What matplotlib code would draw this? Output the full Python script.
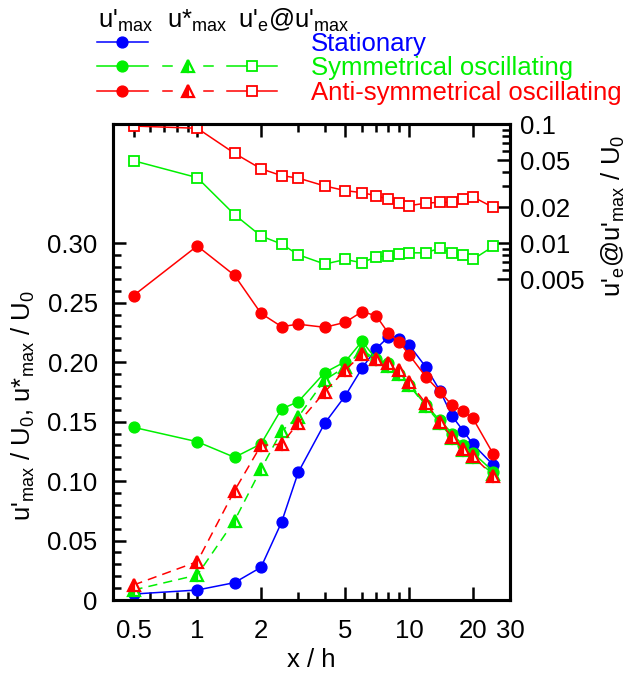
import matplotlib
matplotlib.use("Agg")
import matplotlib.pyplot as plt
import numpy as np
from matplotlib.ticker import FixedLocator, FixedFormatter, NullFormatter

plt.rcParams['font.family'] = ['Liberation Sans', 'DejaVu Sans']
plt.rcParams['font.size'] = 18.5
plt.rcParams['mathtext.default'] = 'regular'

# x / h stations
x_h = [0.5, 1, 1.5, 2, 2.5, 3, 4, 5, 6, 7, 8, 9, 10, 12, 14, 16, 18, 20, 25]

# u'max / U0
umax_stat = [0.005, 0.0084, 0.0146, 0.0275, 0.0653, 0.1074, 0.1486, 0.1717, 0.1948, 0.2114,
             0.2212, 0.2198, 0.2145, 0.196, 0.176, 0.1545, 0.1425, 0.1312, 0.1135]
umax_sym = [0.1452, 0.1331, 0.120, 0.1312, 0.1606, 0.1668, 0.1912, 0.2004, 0.2175, 0.2025,
            0.199, 0.190, 0.181, 0.164, 0.151, 0.140, 0.130, 0.124, 0.108]
umax_anti = [0.256, 0.2977, 0.273, 0.241, 0.2299, 0.2319, 0.2293, 0.2335, 0.2425, 0.239,
             0.2243, 0.2168, 0.2064, 0.1878, 0.1752, 0.1636, 0.1588, 0.153, 0.1228]

# u*max / U0
ustar_sym = [0.0084, 0.021, 0.0667, 0.110, 0.142, 0.154, 0.185, 0.196, 0.210, 0.2024,
             0.197, 0.190, 0.181, 0.163, 0.149, 0.136, 0.126, 0.120, 0.106]
ustar_anti = [0.0126, 0.0322, 0.092, 0.130, 0.131, 0.149, 0.175, 0.1934, 0.2065, 0.203,
              0.1996, 0.1934, 0.1836, 0.1654, 0.150, 0.1368, 0.1267, 0.1211, 0.1043]

# u'e @ u'max / U0 (right axis)
ue_sym = [0.0494, 0.0356, 0.0174, 0.0115, 0.00985, 0.0080, 0.00668, 0.0073, 0.00685, 0.0077,
          0.0078, 0.0081, 0.0083, 0.0083, 0.0091, 0.0082, 0.0079, 0.0073, 0.0094]
ue_anti = [0.0967, 0.0926, 0.057, 0.0423, 0.037, 0.0353, 0.0303, 0.0277, 0.0266, 0.0251,
           0.0234, 0.0218, 0.0207, 0.0217, 0.0221, 0.0221, 0.0234, 0.0246, 0.020]

BLUE = '#0000ff'
GREEN = '#00f000'
RED = '#ff0000'

x_ticks = [0.5, 1, 2, 5, 10, 20, 30]
x_minor = [0.6, 0.7, 0.8, 0.9, 3, 4, 6, 7, 8, 9]
y_ticks = [0, 0.05, 0.10, 0.15, 0.20, 0.25, 0.30]
y_labels = ['0', '0.05', '0.10', '0.15', '0.20', '0.25', '0.30']
r_ticks = [0.005, 0.01, 0.02, 0.05, 0.1]
r_labels = ['0.005', '0.01', '0.02', '0.05', '0.1']
r_minor = [0.006, 0.007, 0.008, 0.009, 0.03, 0.04, 0.06, 0.07, 0.08, 0.09]

fig = plt.figure(figsize=(6.33, 6.75), dpi=100)
ax = fig.add_axes([113/633, 75/675, 397/633, 475.7/675])

circ = dict(marker='o', ms=7.8, lw=1.1)
tri = dict(marker='^', ms=9, lw=1.1, ls=(0, (6, 4)), fillstyle='left',
           markerfacecoloralt='white', mew=1.6)

ax.plot(x_h, umax_stat, color=BLUE, **circ)
ax.plot(x_h, umax_sym, color=GREEN, **circ)
ax.plot(x_h, ustar_sym, color=GREEN, **tri)
ax.plot(x_h, umax_anti, color=RED, **circ)
ax.plot(x_h, ustar_anti, color=RED, **tri)

ax.set_xscale('log')
ax.set_xlim(0.4, 30)
ax.set_ylim(0, 0.4)
ax.xaxis.set_major_locator(FixedLocator(x_ticks))
ax.xaxis.set_major_formatter(FixedFormatter([str(t) for t in x_ticks]))
ax.xaxis.set_minor_locator(FixedLocator(x_minor))
ax.xaxis.set_minor_formatter(NullFormatter())
ax.yaxis.set_major_locator(FixedLocator(y_ticks))
ax.yaxis.set_major_formatter(FixedFormatter(y_labels))
ax.yaxis.set_minor_locator(FixedLocator(np.arange(0, 0.301, 0.01)))
ax.tick_params(which='both', direction='in', top=True, right=False, width=1.8)
ax.tick_params(which='major', length=9.5)
ax.tick_params(which='minor', length=5.5)
ax.tick_params(axis='x', which='major', pad=14)
ax.tick_params(axis='y', which='major', pad=11)
for s in ax.spines.values():
    s.set_linewidth(2.2)

ax.set_xlabel('x / h', labelpad=3)
fig.text(23/633, 1 - 406/675,
         "u'$_{max}$ / U$_{0}$, u*$_{max}$ / U$_{0}$",
         rotation=90, ha='center', va='center')

ax2 = ax.twinx()
sq = dict(marker='s', ms=7, lw=1.1, mfc='white', mew=1.3)
ax2.plot(x_h, ue_sym, color=GREEN, **sq)
ax2.plot(x_h, ue_anti, color=RED, **sq)
ax2.set_yscale('log')
ax2.set_ylim(1e-5, 0.1)
ax2.yaxis.set_major_locator(FixedLocator(r_ticks))
ax2.yaxis.set_major_formatter(FixedFormatter(r_labels))
ax2.yaxis.set_minor_locator(FixedLocator(r_minor))
ax2.yaxis.set_minor_formatter(NullFormatter())
ax2.tick_params(which='both', direction='in', width=1.8, pad=7)
ax2.tick_params(which='major', length=9.5)
ax2.tick_params(which='minor', length=5.5)
for s in ax2.spines.values():
    s.set_linewidth(2.2)
fig.text(613/633, 1 - 216/675,
         "u'$_{e}$@u'$_{max}$ / U$_{0}$",
         rotation=90, ha='center', va='center')

# hand-made legend in pixel space
lg = fig.add_axes([0, 0, 1, 1])
lg.set_xlim(0, 633)
lg.set_ylim(675, 0)
lg.axis('off')
lg.patch.set_alpha(0)

for xt, s in zip([98, 167, 238], ["u'$_{max}$", "u*$_{max}$", "u'$_{e}$@u'$_{max}$"]):
    lg.text(xt, 27.5, s, ha='left', va='baseline')

rows = [(41.7, BLUE, 'Stationary', False),
        (65.7, GREEN, 'Symmetrical oscillating', True),
        (90.7, RED, 'Anti-symmetrical oscillating', True)]
for yr, c, name, osc in rows:
    lg.plot([97, 148], [yr, yr], color=c, lw=1.1)
    lg.plot([122], [yr], color=c, marker='o', ms=7.8)
    if osc:
        lg.plot([163, 172], [yr, yr], color=c, lw=1.1)
        lg.plot([204, 213], [yr, yr], color=c, lw=1.1)
        lg.plot([188], [yr], color=c, marker='^', ms=9, fillstyle='left',
                markerfacecoloralt='white', mew=1.6)
        lg.plot([227, 277], [yr, yr], color=c, lw=1.1)
        lg.plot([252], [yr], color=c, marker='s', ms=7, mfc='white', mew=1.3)
    lg.text(311, yr + 2, name, color=c, ha='left', va='center')

fig.savefig('out.png', dpi=100)
